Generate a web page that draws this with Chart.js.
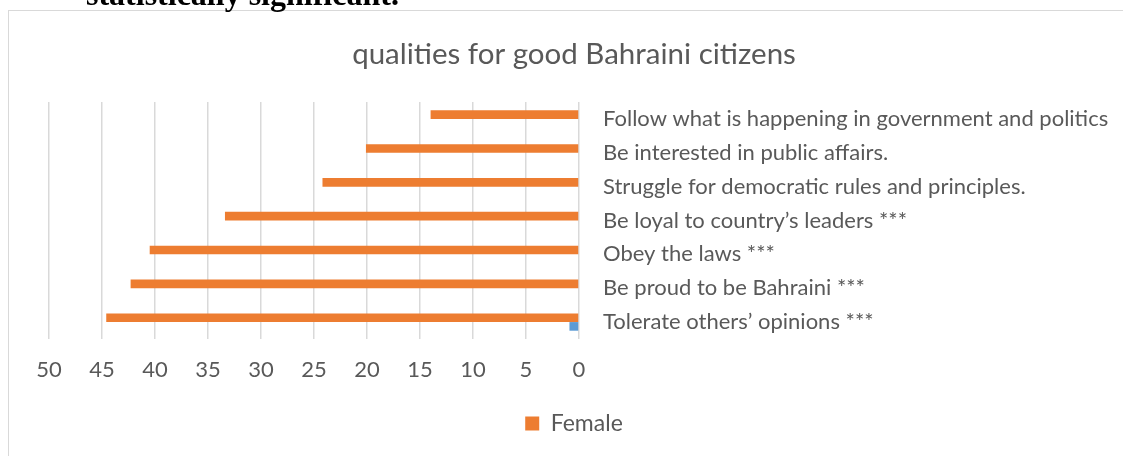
<!DOCTYPE html>
<html>
<head>
<meta charset="utf-8">
<script src="https://cdn.jsdelivr.net/npm/chart.js@4"></script>
<style>
  html, body { margin: 0; padding: 0; background: #fff; overflow: hidden; }
  body { width: 1123px; height: 456px; position: relative; }
  .caption {
    position: absolute; left: 86px; top: -22px;
    font: bold 32px/32px "Liberation Serif", "Times New Roman", serif;
    color: #000; white-space: nowrap; z-index: 2;
  }
  .frame {
    position: absolute; left: 8px; top: 10px;
    width: 1124px; height: 460px;
    border: 1px solid #d9d9d9; background: #fff;
  }
  .frame canvas { position: absolute; left: 0; top: 0; }
</style>
</head>
<body>
<div class="caption">statistically significant.</div>
<div class="frame">
  <canvas id="chartQualidades" width="1124" height="445"></canvas>
</div>
<script>
const TITULO = 'qualities for good Bahraini citizens';

const CATEGORIAS = [
  'Follow what is happening in government and politics',
  'Be interested in public affairs.',
  'Struggle for democratic rules and principles.',
  'Be loyal to country\u2019s leaders ***',
  'Obey the laws ***',
  'Be proud to be Bahraini ***',
  'Tolerate others\u2019 opinions ***',
];

const VALORES_FEMALE = [14.0, 20.1, 24.2, 33.4, 40.5, 42.3, 44.6];
const VALORES_MALE = [0, 0, 0, 0, 0, 0, 0.9];

const EIXO_X = { min: 0, max: 50, passo: 5 };

const COR_TEXTO = '#595959';
const COR_GRADE = '#d9d9d9';
const FONTE = 'Lato, "Open Sans", sans-serif';

const canvas = document.getElementById('chartQualidades');

new Chart(canvas.getContext('2d'), {
  type: 'bar',
  data: {
    labels: CATEGORIAS,
    datasets: [
      {
        label: 'Female',
        data: VALORES_FEMALE,
        backgroundColor: '#ed7d31',
        borderWidth: 0,
        categoryPercentage: 0.51,
        barPercentage: 1.0,
      },
      {
        label: 'Male',
        data: VALORES_MALE,
        backgroundColor: '#5b9bd5',
        borderWidth: 0,
        categoryPercentage: 0.51,
        barPercentage: 1.0,
      },
    ],
  },
  options: {
    responsive: false,
    animation: false,
    indexAxis: 'y',
    layout: {
      padding: { left: 6, right: 0, top: 0, bottom: 11 },
    },
    plugins: {
      title: {
        display: true,
        text: TITULO,
        color: COR_TEXTO,
        font: { family: FONTE, size: 29.5, weight: 'normal' },
        padding: { top: 26, bottom: 29.6 },
      },
      legend: {
        display: true,
        position: 'bottom',
        labels: {
          color: COR_TEXTO,
          font: { family: FONTE, size: 23 },
          boxWidth: 14,
          boxHeight: 14,
          padding: 10,
          filter: (item) => item.text === 'Female',
        },
      },
      tooltip: { enabled: false },
    },
    scales: {
      x: {
        position: 'bottom',
        reverse: true,
        min: EIXO_X.min,
        max: EIXO_X.max,
        ticks: {
          stepSize: EIXO_X.passo,
          color: COR_TEXTO,
          font: { family: FONTE, size: 22 },
          padding: 17.5,
        },
        grid: {
          color: COR_GRADE,
          lineWidth: 1.5,
          drawTicks: false,
        },
        border: { display: false },
        afterFit(scale) {
          scale.height = 63;
          // deixa a area do grafico comecar no x=40, como no original
          scale.paddingLeft = 40;
        },
      },
      y: {
        position: 'right',
        ticks: {
          color: COR_TEXTO,
          font: { family: FONTE, size: 22 },
          padding: 24,
        },
        grid: { display: false, drawTicks: false },
        border: { display: false },
        afterFit(scale) {
          scale.width = 554;
        },
      },
    },
  },
});
</script>
</body>
</html>
